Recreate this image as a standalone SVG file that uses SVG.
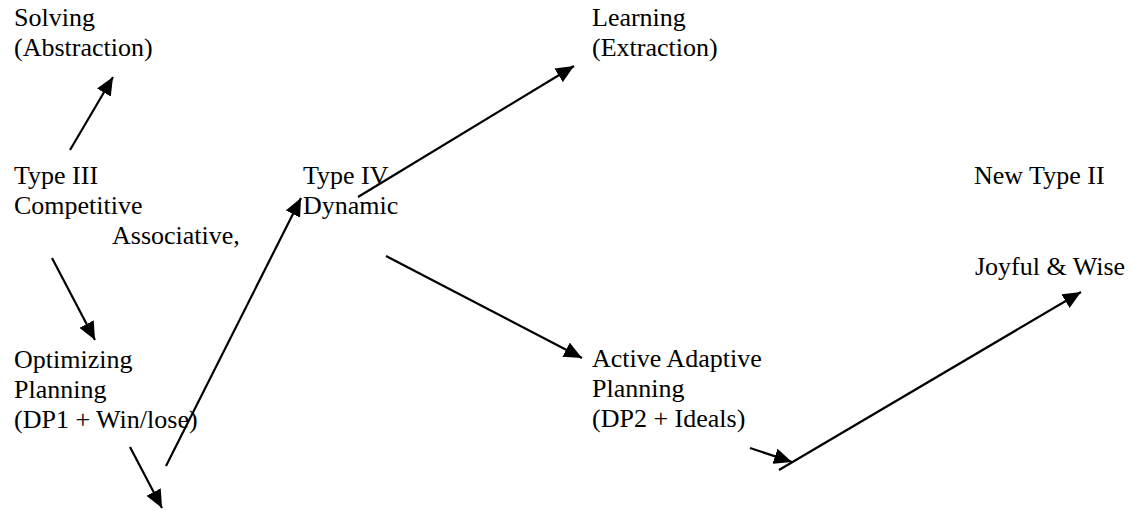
<svg xmlns="http://www.w3.org/2000/svg" width="1134" height="510" viewBox="0 0 1134 510" font-family="'Liberation Serif', 'Times New Roman', Times, serif" font-size="26">
<defs>
<style>
text{font-family:"Liberation Serif","Times New Roman",Times,serif;font-size:26px;fill:#000}
.c{stroke:#000;stroke-width:2.2;fill:none;marker-end:url(#ah)}
</style>
<marker id="ah" markerUnits="userSpaceOnUse" markerWidth="20" markerHeight="16" refX="18" refY="8" orient="auto">
<path d="M0,0 L18,8 L0,16 Z" fill="#000"/>
</marker>
</defs>
<rect width="1134" height="510" fill="#fff"/>
<g id="solving"><text x="14" y="26">Solving</text><text x="14" y="56">(Abstraction)</text></g>
<g id="type3"><text x="14" y="184">Type III</text><text x="14" y="214">Competitive</text><text x="112" y="244">Associative,</text></g>
<g id="optimizing"><text x="14" y="368">Optimizing</text><text x="14" y="398">Planning</text><text x="14" y="428">(DP1 + Win/lose)</text></g>
<g id="type4"><text x="303" y="184">Type IV</text><text x="303" y="214">Dynamic</text></g>
<g id="learning"><text x="592" y="26">Learning</text><text x="592" y="56">(Extraction)</text></g>
<g id="adaptive"><text x="592" y="367">Active Adaptive</text><text x="592" y="397">Planning</text><text x="592" y="427">(DP2 + Ideals)</text></g>
<g id="newtype2"><text x="974" y="184">New Type II</text></g>
<g id="joyful"><text x="975" y="275">Joyful &amp; Wise</text></g>
<g id="connectors">
<line class="c" x1="70" y1="150" x2="113" y2="77"/>
<line class="c" x1="52" y1="258" x2="95" y2="340"/>
<line class="c" x1="130" y1="447" x2="162" y2="508"/>
<line class="c" x1="166" y1="466" x2="301" y2="198"/>
<line class="c" x1="358" y1="197" x2="574" y2="66"/>
<line class="c" x1="386" y1="256" x2="582" y2="358"/>
<line class="c" x1="750" y1="448" x2="792" y2="462"/>
<line class="c" x1="779" y1="470" x2="1081" y2="292"/>
</g>
</svg>
